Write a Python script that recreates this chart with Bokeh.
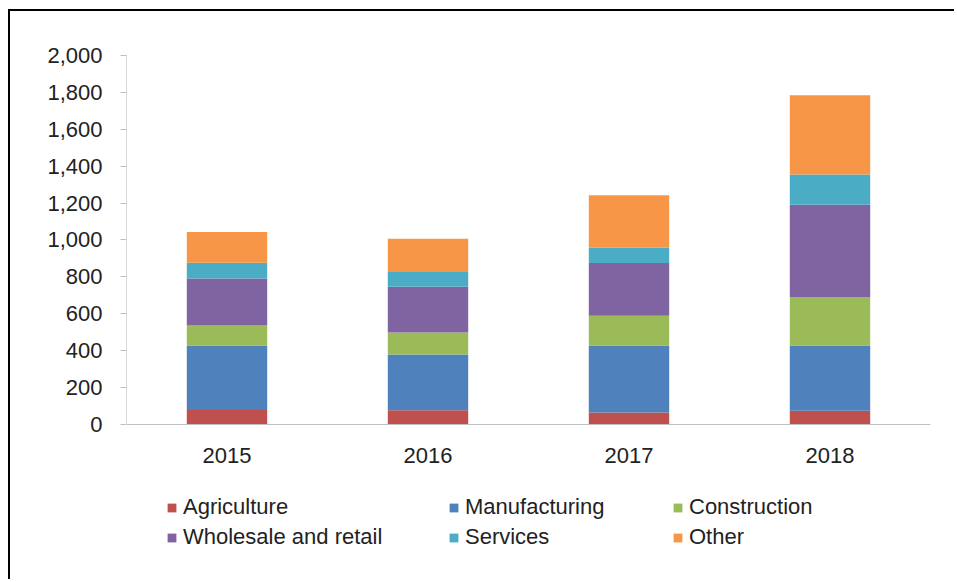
from bokeh.plotting import figure
from bokeh.models import (ColumnDataSource, FactorRange, Range1d, Legend, LegendItem,
                          NumeralTickFormatter, FixedTicker)
from bokeh.embed import file_html
from bokeh.resources import INLINE

years = ["2015", "2016", "2017", "2018"]
sectors = ["Agriculture", "Manufacturing", "Construction",
           "Wholesale and retail", "Services", "Other"]
agriculture = [78, 77, 65, 74]
manufacturing = [350, 302, 363, 354]
construction = [108, 119, 162, 263]
wholesale = [255, 249, 285, 500]
services = [85, 79, 85, 164]
other = [167, 181, 283, 430]
colors = ["#C0504D", "#4F81BD", "#9BBB59", "#8064A2", "#4BACC6", "#F79646"]
y_ticks = list(range(0, 2001, 200))

data = {"year": years}
for name, vals in zip(sectors, [agriculture, manufacturing, construction,
                                wholesale, services, other]):
    data[name] = vals
source = ColumnDataSource(data)

FONT = "Liberation Sans"

p = figure(width=946, height=570, output_backend="svg", toolbar_location=None,
           x_range=FactorRange(*years, range_padding=0),
           y_range=Range1d(-851, 2000),
           min_border_left=116, min_border_right=26, min_border_top=44,
           min_border_bottom=0)
p.styles = {"border-top": "2px solid #000", "border-left": "2px solid #000",
            "margin-left": "8px", "margin-top": "9px"}
p.outline_line_color = None
p.xgrid.visible = False
p.ygrid.visible = False

renderers = p.vbar_stack(sectors, x="year", width=0.4, color=colors, source=source,
                         line_color=None)

# axes
p.yaxis.ticker = FixedTicker(ticks=y_ticks)
p.yaxis.bounds = (0, 2000)
p.yaxis.formatter = NumeralTickFormatter(format="0,0")
p.yaxis.axis_line_color = "#D9D9D9"
p.yaxis.major_tick_line_color = "#BFBFBF"
p.yaxis.major_tick_out = 6
p.yaxis.major_tick_in = 0
p.yaxis.minor_tick_line_color = None
p.yaxis.major_label_text_font = FONT
p.yaxis.major_label_text_font_size = "22px"
p.yaxis.major_label_text_color = "#222222"
p.yaxis.major_label_standoff = 18

p.xaxis.fixed_location = 0
p.xaxis.axis_line_color = "#BFBFBF"
p.xaxis.major_tick_line_color = None
p.xaxis.minor_tick_line_color = None
p.xaxis.major_label_text_font = FONT
p.xaxis.major_label_text_font_size = "22px"
p.xaxis.major_label_text_color = "#222222"
p.xaxis.major_label_standoff = 18

def make_legend(idx, loc):
    items = [LegendItem(label=sectors[i], renderers=[renderers[i]]) for i in idx]
    lg = Legend(items=items, location=loc, orientation="vertical",
                border_line_color=None, background_fill_alpha=0,
                label_text_font=FONT, label_text_font_size="22px",
                label_text_color="#222222", glyph_width=11, glyph_height=11,
                label_standoff=6, spacing=4, padding=0, margin=0,
                label_height=24)
    p.add_layout(lg, "center")

make_legend([0, 3], (40, 31))
make_legend([1, 4], (322, 31))
make_legend([2, 5], (546, 31))

open("out.html", "w").write(file_html(p, INLINE))
